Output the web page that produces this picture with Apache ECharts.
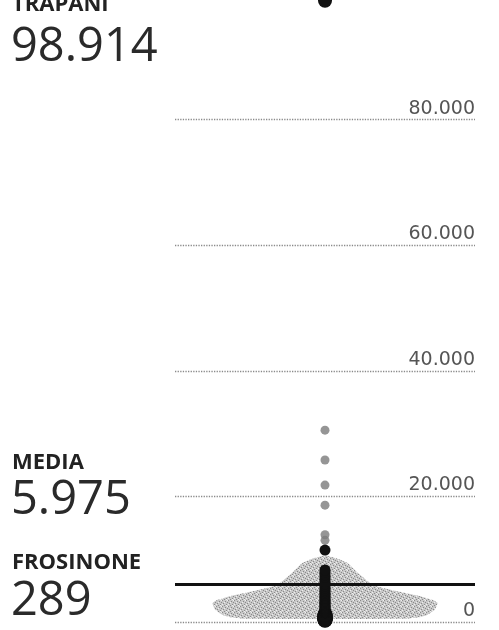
<!DOCTYPE html>
<html><head><meta charset="utf-8">
<script src="https://cdn.jsdelivr.net/npm/echarts@6/dist/echarts.min.js"></script>
<style>html,body{margin:0;padding:0;background:#fff}#c{width:499px;height:630px}</style>
</head><body><div id="c"></div>
<script>
// ---- data ----
const tickValues = [0, 20000, 40000, 60000, 80000, 100000];
const tickLabels = ['0', '20.000', '40.000', '60.000', '80.000', ''];
// province values (black column) – estimated
const provinceValues = [289, 340, 395, 470, 520, 610, 690, 760, 845, 930, 1020, 1130, 1240, 1370, 1480,
  1620, 1750, 1910, 2080, 2230, 2410, 2590, 2760, 2950, 3140, 3360, 3580, 3810, 4050, 4290, 4560,
  4820, 5110, 5420, 5750, 6080, 6430, 6790, 7150, 7520, 7900, 8280, 11450, 98914];
// grey outlier dots above the swarm
const greyDotValues = [13000, 13900, 18600, 21800, 25800, 30550];
// grey swarm profile: value and relative half-width
const swarmValues = [500, 800, 1100, 1900, 3000, 3500, 4000, 4800, 5900, 7800, 9400, 10200, 10600];
const swarmHalfWidths = [0.52, 0.64, 0.68, 0.73, 0.75, 0.72, 0.65, 0.50, 0.32, 0.22, 0.15, 0.07, 0];
const mediaValue = 5975;
const calloutLabels = ['TRAPANI', 'MEDIA', 'FROSINONE'];

const fmt = v => String(v).replace(/\B(?=(\d{3})+(?!\d))/g, '.');
const maxVal = Math.max(...provinceValues);
const minVal = Math.min(...provinceValues);
const calloutValues = [maxVal, mediaValue, minVal];

// speckled texture for the swarm
const pc = document.createElement('canvas'); pc.width = 6; pc.height = 6;
const g = pc.getContext('2d');
g.fillStyle = '#c8c8c8'; g.fillRect(0, 0, 6, 6);
g.fillStyle = '#8a8a8a';
[[0,0],[3,1],[1,3],[4,4],[2,5],[5,2]].forEach(([x,y]) => g.fillRect(x, y, 1, 1));
g.fillStyle = '#eeeeee';
[[2,2],[5,0],[0,4],[4,5]].forEach(([x,y]) => g.fillRect(x, y, 1, 1));

const chart = echarts.init(document.getElementById('c'), null, {renderer: 'canvas'});
const callY = [[5, 48], [463, 501], [563, 602]];
const graphic = [];
calloutLabels.forEach((lab, i) => {
  graphic.push({type: 'text', x: 12, y: callY[i][0], z: 10,
    style: {text: lab, font: 'bold 22px "Open Sans"', fill: '#222', verticalAlign: 'middle'}});
  graphic.push({type: 'text', x: 11, y: callY[i][1], z: 10,
    style: {text: fmt(calloutValues[i]), font: '47px "Open Sans"', fill: '#2a2a2a', verticalAlign: 'middle'}});
});

chart.setOption({
  animation: false,
  backgroundColor: '#fff',
  grid: {left: 175, right: 24, top: -6, bottom: 8, outerBoundsMode: 'none', containLabel: false},
  graphic: graphic,
  xAxis: {type: 'value', min: -1, max: 1, show: false},
  yAxis: {
    type: 'value', min: 0, max: 100000, interval: 20000, position: 'right',
    axisLine: {show: false}, axisTick: {show: false},
    splitLine: {lineStyle: {type: 'dotted', color: '#8a8a8a', width: 1.3}},
    axisLabel: {
      inside: true, margin: 0, verticalAlign: 'bottom', lineHeight: 22,
      color: '#555', fontSize: 19, fontFamily: 'DejaVu Sans',
      formatter: v => { const i = tickValues.indexOf(v); return i >= 0 ? tickLabels[i] : ''; }
    }
  },
  series: [
    {
      type: 'custom', z: 1, silent: true,
      data: [[0, 0]],
      renderItem: (params, api) => {
        const right = swarmValues.map((v, i) => api.coord([swarmHalfWidths[i], v]));
        const left = swarmValues.map((v, i) => api.coord([-swarmHalfWidths[i], v])).reverse();
        return {type: 'polygon', shape: {points: right.concat(left), smooth: 0.15},
          style: {fill: {image: pc, repeat: 'repeat'}}};
      }
    },
    {
      type: 'scatter', z: 2, symbolSize: 9,
      itemStyle: {color: '#7a7a7a'},
      data: greyDotValues.map(v => [0, v])
    },
    {
      type: 'scatter', z: 3, data: [],
      markLine: {silent: true, symbol: 'none', label: {show: false},
        lineStyle: {color: '#111', width: 3, type: 'solid'},
        data: [{yAxis: mediaValue}]}
    },
    {
      type: 'scatter', z: 4,
      symbolSize: v => v[1] < 1300 ? 15 : (v[1] > 90000 ? 14 : 11),
      itemStyle: {color: '#111', opacity: 1},
      data: provinceValues.map(v => [0, v])
    }
  ]
});
</script></body></html>
